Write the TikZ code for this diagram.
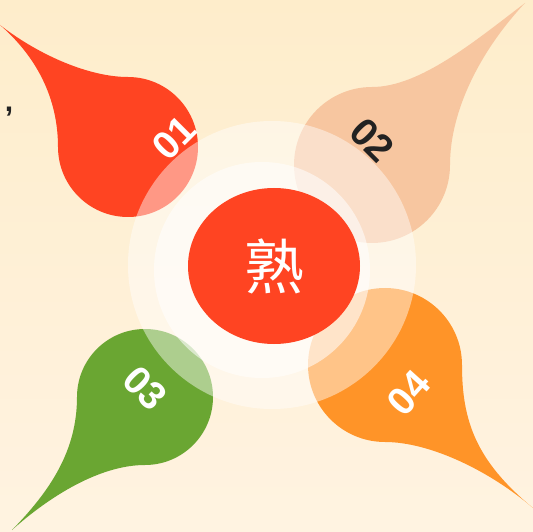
\documentclass[tikz,border=0pt]{standalone}
\usepackage{fontspec}
\usepackage{xcolor}
\usetikzlibrary{calc}
\newfontfamily\cjkfont{Noto Sans CJK SC}
\newfontfamily\numfont{Liberation Sans}
\definecolor{bgtop}{HTML}{FEEDCB}
\definecolor{bgbot}{HTML}{FFF3E1}
\definecolor{dropred}{HTML}{FF4422}
\definecolor{droppeach}{HTML}{F7C6A0}
\definecolor{dropgreen}{HTML}{6AA632}
\definecolor{droporange}{HTML}{FF9428}
\definecolor{numdark}{HTML}{222222}
\tikzset{
	num/.style={font=\numfont\bfseries\fontsize{39}{39}\selectfont, inner sep=0pt},
	halo/.style={fill=white, draw=none}
}

\begin{document}
\begin{tikzpicture}[x=1pt,y=1pt]
	%background
	\shade[top color=bgtop, bottom color=bgbot] (0,0) rectangle (533,531);
	\useasboundingbox (0,0) rectangle (533,531);
	\node[font=\numfont\bfseries\fontsize{30}{30}\selectfont, numdark, inner sep=0pt] (comma) at (9,419) {,};
	%drops
	\fill[dropred] (0,506) .. controls (40,475) and (90,454) .. (128,454) arc[start angle=90, end angle=-180, radius=70] .. controls (58,440) and (30,480) .. (0,506);
	\fill[droppeach] (525,528) .. controls (475,490) and (420,444) .. (372,444) arc[start angle=90, end angle=360, radius=78] .. controls (450,420) and (480,480) .. (525,528);
	\fill[dropgreen] (12,1) .. controls (50,35) and (100,66) .. (145,66) arc[start angle=-90, end angle=180, radius=68] .. controls (77,80) and (50,40) .. (12,1);
	\fill[droporange] (533,23) .. controls (490,60) and (430,89) .. (385,89) arc[start angle=270, end angle=0, radius=77] .. controls (462,110) and (476,70) .. (533,23);
	%numbers
	\node[num, white, rotate=45] (n1) at (174,393) {01};
	\node[num, numdark, rotate=-45] (n2) at (372,391) {02};
	\node[num, white, rotate=-45] (n3) at (145,143) {03};
	\node[num, white, rotate=48] (n4) at (409,138) {04};
	%centre
	\fill[halo, opacity=0.45] (272,266) circle (144);
	\fill[halo, opacity=0.55] (262,261) circle (108);
	\fill[dropred] (274,265) ellipse [x radius=86, y radius=78];
	\node[font=\cjkfont\fontsize{60}{60}\selectfont, white] (shu) at (274,265) {熟};
\end{tikzpicture}
\end{document}
